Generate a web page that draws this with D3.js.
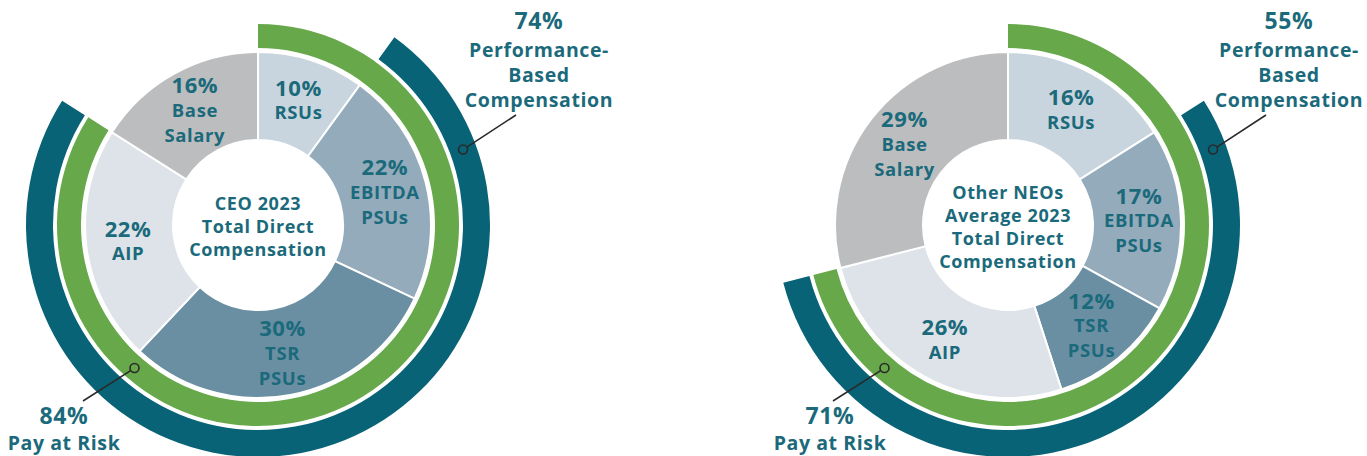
<!DOCTYPE html>
<html>
<head>
<meta charset="utf-8">
<script src="https://cdn.jsdelivr.net/npm/d3@7"></script>
<style>
  body { margin: 0; background: #fff; }
  text { font-family: "Open Sans", sans-serif; font-weight: 700; fill: #1b6a7b; letter-spacing: 0.6px; }
</style>
</head>
<body>
<svg id="chart" width="1367" height="456"></svg>
<script>
// pie categories, clockwise from 12 o'clock
var categories = ['RSUs', 'EBITDA PSUs', 'TSR PSUs', 'AIP', 'Base Salary'];
var labelLines = [['RSUs'], ['EBITDA', 'PSUs'], ['TSR', 'PSUs'], ['AIP'], ['Base', 'Salary']];
var sliceColors = ['#c9d5de', '#94abbb', '#6a8fa3', '#dde3e8', '#bcbdbf'];

var ceoValues = [10, 22, 30, 22, 16];
var neoValues = [16, 17, 12, 26, 29];

var ceoTitle = ['CEO 2023', 'Total Direct', 'Compensation'];
var neoTitle = ['Other NEOs', 'Average 2023', 'Total Direct', 'Compensation'];

// which slices make up each ring
var payAtRiskCats = ['RSUs', 'EBITDA PSUs', 'TSR PSUs', 'AIP'];
var perfBasedCats = ['EBITDA PSUs', 'TSR PSUs', 'AIP'];
var ringNames = [['Pay at Risk'], ['Performance-', 'Based', 'Compensation']];

var svg = d3.select('#chart');

var green = '#66a84a';
var teal = '#086377';

var rInner = 85, rOuter = 173;
var gIn = 177, gOut = 201;
var tIn = 205, tOut = 232;

var pie = d3.pie().sort(null).value(function(d) { return d.value; });
var sliceArc = d3.arc().innerRadius(rInner).outerRadius(rOuter);
var labelArc = d3.arc().innerRadius(131).outerRadius(131);

function drawDonut(cx, cy, values, title, riskLabelX) {
    var data = categories.map(function(c, i) {
        return {cat: c, value: values[i], lines: labelLines[i], color: sliceColors[i]};
    });
    var arcs = pie(data);
    var g = svg.append('g').attr('transform', 'translate(' + [cx, cy] + ')');

    g.selectAll('.slice')
        .data(arcs)
        .enter()
        .append('path')
        .attr('class', 'slice')
        .attr('d', sliceArc)
        .attr('fill', function(d) { return d.data.color; })
        .attr('stroke', '#fff')
        .attr('stroke-width', 2);

    // rings built from the slice angles
    function span(cats) {
        var sel = arcs.filter(function(a) { return cats.indexOf(a.data.cat) >= 0; });
        var total = d3.sum(sel, function(a) { return a.data.value; });
        return {start: d3.min(sel, function(a) { return a.startAngle; }),
                end: d3.max(sel, function(a) { return a.endAngle; }),
                total: total};
    }
    var risk = span(payAtRiskCats);
    var perf = span(perfBasedCats);

    g.append('path')
        .attr('d', d3.arc().innerRadius(gIn).outerRadius(gOut)({startAngle: risk.start, endAngle: risk.end}))
        .attr('fill', green);
    g.append('path')
        .attr('d', d3.arc().innerRadius(tIn).outerRadius(tOut)({startAngle: perf.start, endAngle: perf.end}))
        .attr('fill', teal);

    // slice labels
    arcs.forEach(function(a) {
        var c = labelArc.centroid(a);
        var lines = [a.data.value + '%'].concat(a.data.lines);
        var top = c[1] - (lines.length - 1) * 25 / 2;
        var t = g.append('text').attr('text-anchor', 'middle');
        lines.forEach(function(l, i) {
            t.append('tspan')
                .attr('x', c[0])
                .attr('y', top + i * 25)
                .attr('dy', '0.35em')
                .style('font-size', i === 0 ? '22px' : '18.5px')
                .text(l);
        });
    });

    // centre title
    var ct = g.append('text').attr('text-anchor', 'middle');
    title.forEach(function(l, i) {
        ct.append('tspan')
            .attr('x', 0)
            .attr('y', 2 + (i - (title.length - 1) / 2) * 23)
            .attr('dy', '0.35em')
            .style('font-size', '18px')
            .text(l);
    });

    // callouts
    function callout(angleDeg, r, ringColor, endPt) {
        var a = angleDeg * Math.PI / 180;
        var p = [r * Math.sin(a), -r * Math.cos(a)];
        g.append('line')
            .attr('x1', p[0]).attr('y1', p[1])
            .attr('x2', endPt[0]).attr('y2', endPt[1])
            .attr('stroke', '#2a2a2a').attr('stroke-width', 1.6);
        g.append('circle')
            .attr('cx', p[0]).attr('cy', p[1]).attr('r', 4.5)
            .attr('fill', ringColor)
            .attr('stroke', '#2a2a2a').attr('stroke-width', 1.6);
    }
    callout(69.8, (tIn + tOut) / 2, teal, [258, -110]);
    callout(220.8, (gIn + gOut) / 2, green, [-175, 176]);

    var pt = g.append('text').attr('text-anchor', 'middle');
    [perf.total + '%'].concat(ringNames[1]).forEach(function(l, i) {
        pt.append('tspan')
            .attr('x', 281)
            .attr('y', i === 0 ? -204 : -200 + i * 25)
            .attr('dy', '0.35em')
            .style('font-size', i === 0 ? '23px' : '19.5px')
            .text(l);
    });

    var rt = g.append('text').attr('text-anchor', 'middle');
    [risk.total + '%'].concat(ringNames[0]).forEach(function(l, i) {
        rt.append('tspan')
            .attr('x', riskLabelX)
            .attr('y', 191 + i * 27)
            .attr('dy', '0.35em')
            .style('font-size', i === 0 ? '23px' : '19.5px')
            .text(l);
    });
}

drawDonut(258, 225, ceoValues, ceoTitle, -194);
drawDonut(1008, 225, neoValues, neoTitle, -178);
</script>
</body>
</html>
